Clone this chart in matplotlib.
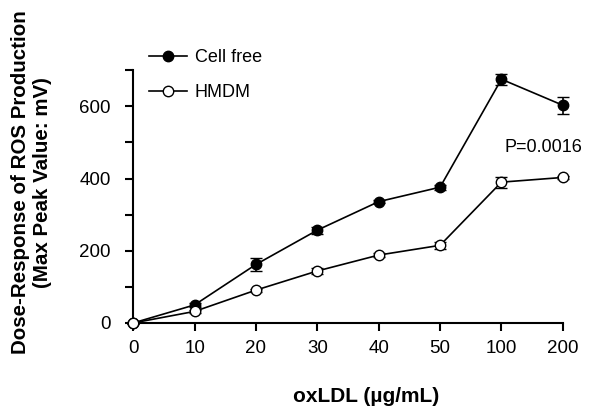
import matplotlib
matplotlib.use("Agg")
import matplotlib.pyplot as plt
from matplotlib.lines import Line2D

plt.rcParams["font.family"] = ["Liberation Sans", "DejaVu Sans"]

doses = ["0", "10", "20", "30", "40", "50", "100", "200"]
cell_free = [0, 50, 162, 257, 336, 376, 675, 603]
cell_free_err = [3, 5, 18, 10, 5, 7, 15, 24]
hmdm = [0, 32, 91, 144, 188, 215, 390, 403]
hmdm_err = [3, 4, 4, 8, 5, 10, 15, 5]

x = list(range(len(doses)))

fig = plt.figure(figsize=(6, 4.13), dpi=100)
ax = fig.add_axes([0.222, 0.218, 0.716, 0.612])

ax.errorbar(x, cell_free, yerr=cell_free_err, color="black", marker="o",
            markersize=7.5, markerfacecolor="black", markeredgecolor="black",
            lw=1.2, capsize=4, elinewidth=1.2, clip_on=False, zorder=3)
ax.errorbar(x, hmdm, yerr=hmdm_err, color="black", marker="o",
            markersize=7.5, markerfacecolor="white", markeredgecolor="black",
            lw=1.2, capsize=4, elinewidth=1.2, clip_on=False, zorder=3)

ax.set_xlim(0, 7)
ax.set_ylim(0, 700)
ax.set_xticks(x)
ax.set_xticklabels(doses)
ax.set_yticks([0, 200, 400, 600])
ax.set_yticks([100, 300, 500, 700], minor=True)
ax.tick_params(axis="both", which="both", direction="out", length=6, width=1.5,
               labelsize=13.5, pad=6)
ax.tick_params(axis="y", which="major", pad=10)

for s in ["top", "right"]:
    ax.spines[s].set_visible(False)
for s in ["left", "bottom"]:
    ax.spines[s].set_linewidth(1.5)

ax.text(6.05, 485, "P=0.0016", fontsize=13, ha="left", va="center")

ax.set_xlabel("oxLDL (µg/mL)", fontsize=15, fontweight="bold", labelpad=22)
ax.xaxis.label.set_x(0.542)
ax.set_ylabel("Dose-Response of ROS Production\n(Max Peak Value: mV)",
              fontsize=14.8, fontweight="bold", labelpad=20, linespacing=1.15)
ax.yaxis.label.set_y(0.557)

handles = [
    Line2D([], [], color="black", lw=1.2, marker="o", markersize=7.5,
           markerfacecolor="black", markeredgecolor="black"),
    Line2D([], [], color="black", lw=1.2, marker="o", markersize=7.5,
           markerfacecolor="white", markeredgecolor="black"),
]
ax.legend(handles, ["Cell free", "HMDM"], loc="upper left",
          bbox_to_anchor=(0.237, 0.898), bbox_transform=fig.transFigure,
          frameon=False, fontsize=13, handlelength=2.1, labelspacing=1.0,
          handletextpad=0.4, borderaxespad=0)

fig.savefig("out.png", dpi=100)
